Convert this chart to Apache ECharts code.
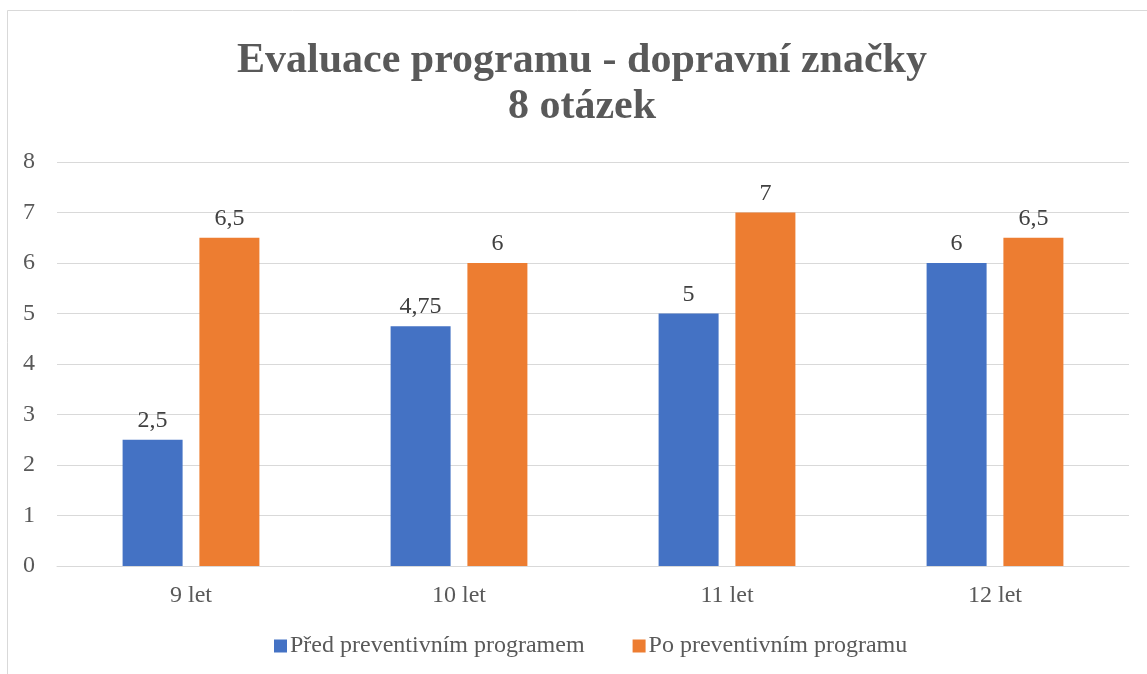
<!DOCTYPE html>
<html>
<head>
    <meta charset="utf-8">
    <title>Evaluace programu - dopravní značky</title>
    <script src="https://cdn.jsdelivr.net/npm/echarts@6.0.0/dist/echarts.min.js"></script>
    <style>
        html, body { margin: 0; padding: 0; background: #fff; }
        #chart { width: 1147px; height: 674px; }
    </style>
</head>
<body>
<div id="chart"></div>
<script>
    const categories = ['9 let', '10 let', '11 let', '12 let'];
    const beforeValues = [2.5, 4.75, 5, 6];
    const afterValues = [6.5, 6, 7, 6.5];
    const seriesNames = ['Před preventivním programem', 'Po preventivním programu'];
    const titleLines = ['Evaluace programu - dopravní značky', '8 otázek'];

    const serif = '"Liberation Serif", "Times New Roman", serif';
    const fmt = p => String(p.value).replace('.', ',');

    const chart = echarts.init(document.getElementById('chart'), null, { renderer: 'canvas' });
    chart.setOption({
        backgroundColor: '#fff',
        animation: false,
        graphic: [{
            type: 'rect',
            shape: { x: 7.5, y: 10.5, width: 1300, height: 800 },
            style: { fill: 'none', stroke: '#d9d9d9', lineWidth: 1 },
            silent: true
        }, {
            // title drawn as graphic text so it can sit slightly right of centre, like the original
            type: 'text',
            x: 582,
            y: 38,
            silent: true,
            style: {
                text: titleLines.join('\n'),
                align: 'center',
                verticalAlign: 'top',
                fontFamily: serif,
                fontSize: 42,
                fontWeight: 'bold',
                fill: '#595959',
                lineHeight: 46
            }
        }],
        legend: {
            bottom: 11,
            left: 269,
            itemWidth: 13,
            itemHeight: 13,
            itemGap: 48,
            icon: 'rect',
            textStyle: { fontFamily: serif, fontSize: 24, color: '#595959', padding: [0, 0, 0, -2] },
            data: seriesNames
        },
        grid: { left: 57, right: 18, top: 162, bottom: 108, containLabel: false },
        xAxis: {
            type: 'category',
            data: categories,
            axisLine: { lineStyle: { color: '#d9d9d9', width: 1 } },
            axisTick: { show: false },
            axisLabel: { fontFamily: serif, fontSize: 24, color: '#595959', margin: 18 }
        },
        yAxis: {
            type: 'value',
            min: 0,
            max: 8,
            interval: 1,
            axisLine: { show: false },
            axisTick: { show: false },
            splitLine: { lineStyle: { color: '#d9d9d9', width: 1 } },
            axisLabel: { fontFamily: serif, fontSize: 24, color: '#595959', margin: 22 }
        },
        series: [{
            name: seriesNames[0],
            type: 'bar',
            data: beforeValues,
            barWidth: 60,
            barGap: '28%',
            itemStyle: { color: '#4472c4' },
            label: {
                show: true, position: 'top', distance: 7, formatter: fmt,
                fontFamily: serif, fontSize: 24, color: '#404040'
            }
        }, {
            name: seriesNames[1],
            type: 'bar',
            data: afterValues,
            barWidth: 60,
            itemStyle: { color: '#ed7d31' },
            label: {
                show: true, position: 'top', distance: 7, formatter: fmt,
                fontFamily: serif, fontSize: 24, color: '#404040'
            }
        }]
    });
</script>
</body>
</html>
